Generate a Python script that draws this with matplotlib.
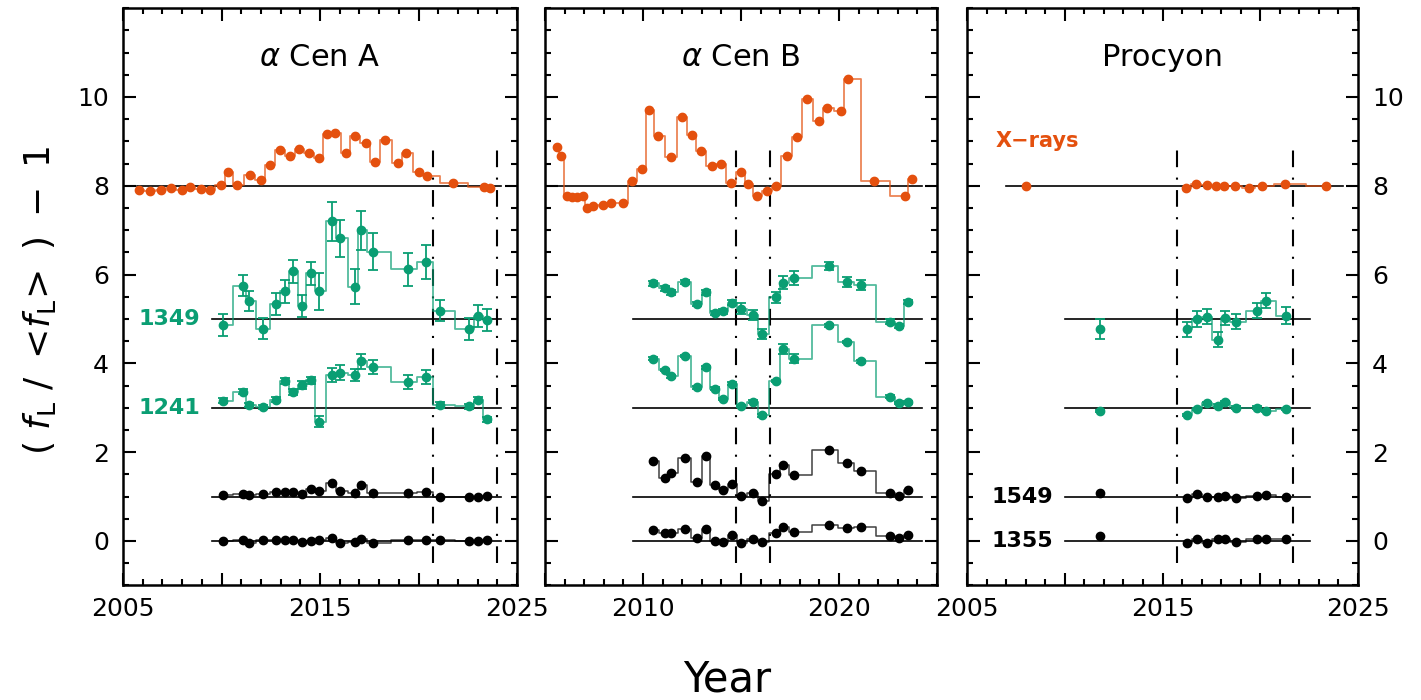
import numpy as np
import matplotlib
matplotlib.use('Agg')
import matplotlib.pyplot as plt
from matplotlib.ticker import MultipleLocator

plt.rcParams['font.family'] = ['DejaVu Sans']
plt.rcParams['mathtext.fontset'] = 'dejavusans'

ORANGE = '#e4500e'
GREEN = '#0a9e73'

# ---- alpha Cen A ----
cenA_xray_t = [2005.81, 2006.36, 2006.95, 2007.46, 2007.97, 2008.39, 2008.95, 2009.41, 2009.97,
               2010.34, 2010.80, 2011.44, 2011.99, 2012.46, 2012.97, 2013.48, 2013.95, 2014.46,
               2014.97, 2015.34, 2015.78, 2016.32, 2016.76, 2017.32, 2017.80, 2018.32, 2018.95,
               2019.36, 2020.05, 2020.42, 2021.73, 2023.30, 2023.64]
cenA_xray = [-0.10, -0.12, -0.10, -0.06, -0.10, -0.03, -0.08, -0.10, 0.01, 0.30, 0.01, 0.24,
             0.13, 0.47, 0.81, 0.66, 0.84, 0.73, 0.63, 1.17, 1.20, 0.75, 1.12, 0.97, 0.54, 1.03,
             0.52, 0.75, 0.30, 0.22, 0.06, -0.02, -0.06]
cenA_uv_t = [2010.07, 2011.11, 2011.41, 2012.12, 2012.76, 2013.22, 2013.65, 2014.07, 2014.53,
             2014.97, 2015.60, 2016.02, 2016.78, 2017.09, 2017.68, 2019.49, 2020.39, 2021.10,
             2022.58, 2023.02, 2023.48]
cenA_1349 = [-0.14, 0.75, 0.41, -0.22, 0.33, 0.62, 1.07, 0.29, 1.03, 0.62, 2.20, 1.82, 0.73,
             2.00, 1.52, 1.12, 1.29, 0.19, -0.23, 0.07, -0.02]
cenA_1349_err = [0.25, 0.23, 0.22, 0.24, 0.25, 0.25, 0.25, 0.24, 0.26, 0.41, 0.44, 0.42, 0.40,
                 0.44, 0.42, 0.37, 0.38, 0.24, 0.25, 0.24, 0.24]
cenA_1241 = [0.16, 0.36, 0.06, 0.02, 0.18, 0.60, 0.36, 0.51, 0.62, -0.31, 0.74, 0.79, 0.74,
             1.05, 0.92, 0.58, 0.70, 0.06, 0.03, 0.18, -0.26]
cenA_1241_err = [0.06, 0.06, 0.05, 0.05, 0.06, 0.07, 0.07, 0.09, 0.08, 0.13, 0.15, 0.17, 0.14,
                 0.17, 0.16, 0.15, 0.16, 0.06, 0.05, 0.06, 0.06]
cenA_1549 = [0.04, 0.05, 0.03, 0.06, 0.10, 0.10, 0.10, 0.05, 0.18, 0.13, 0.31, 0.13, 0.09,
             0.26, 0.07, 0.07, 0.10, -0.02, 0.0, 0.0, 0.02]
cenA_1355 = [0.0, 0.02, -0.04, 0.02, 0.02, 0.03, 0.02, -0.02, 0.0, 0.02, 0.07, -0.05, -0.02,
             0.05, -0.05, 0.02, 0.02, 0.02, -0.01, 0.0, 0.02]

# ---- alpha Cen B ----
cenB_xray_t = [2005.63, 2005.80, 2006.11, 2006.36, 2006.62, 2006.95, 2007.12, 2007.46, 2007.94,
               2008.38, 2009.00, 2009.42, 2009.96, 2010.32, 2010.78, 2011.43, 2012.00, 2012.48,
               2012.94, 2013.50, 2013.98, 2014.49, 2015.00, 2015.37, 2015.83, 2016.34, 2016.79,
               2017.33, 2017.84, 2018.35, 2018.98, 2019.37, 2020.10, 2020.44, 2021.80, 2023.37,
               2023.71]
cenB_xray = [0.88, 0.67, -0.23, -0.25, -0.25, -0.22, -0.49, -0.45, -0.43, -0.38, -0.38, 0.11,
             0.37, 1.71, 1.12, 0.64, 1.54, 1.14, 0.79, 0.45, 0.49, 0.07, 0.30, 0.03, -0.22,
             -0.11, 0.0, 0.68, 1.11, 1.96, 1.47, 1.76, 1.68, 2.41, 0.11, -0.23, 0.15]
cenB_uv_t = [2010.49, 2011.11, 2011.41, 2012.16, 2012.77, 2013.21, 2013.66, 2014.10, 2014.56,
             2015.02, 2015.63, 2016.09, 2016.80, 2017.16, 2017.72, 2019.51, 2020.41, 2021.12,
             2022.62, 2023.08, 2023.52]
cenB_1349 = [0.80, 0.69, 0.60, 0.83, 0.34, 0.60, 0.13, 0.17, 0.37, 0.23, 0.09, -0.34, 0.49,
             0.82, 0.92, 1.19, 0.84, 0.77, -0.06, -0.16, 0.38]
cenB_1349_err = [0.05, 0.05, 0.05, 0.05, 0.05, 0.05, 0.05, 0.05, 0.06, 0.12, 0.11, 0.11, 0.12,
                 0.14, 0.16, 0.09, 0.11, 0.11, 0.05, 0.05, 0.05]
cenB_1241 = [1.11, 0.85, 0.71, 1.17, 0.46, 0.91, 0.43, 0.20, 0.54, 0.04, 0.14, -0.17, 0.60,
             1.32, 1.11, 1.86, 1.48, 1.05, 0.25, 0.11, 0.12]
cenB_1241_err = [0.03, 0.03, 0.03, 0.03, 0.03, 0.03, 0.03, 0.03, 0.03, 0.03, 0.03, 0.03, 0.03,
                 0.11, 0.10, 0.03, 0.03, 0.03, 0.03, 0.03, 0.03]
cenB_1549 = [0.81, 0.43, 0.54, 0.87, 0.33, 0.91, 0.26, 0.15, 0.28, 0.01, 0.09, -0.09, 0.52,
             0.72, 0.48, 1.04, 0.75, 0.58, 0.08, 0.01, 0.15]
cenB_1355 = [0.25, 0.18, 0.18, 0.28, 0.07, 0.28, 0.0, -0.03, 0.13, -0.04, 0.05, -0.03, 0.17,
             0.31, 0.21, 0.37, 0.30, 0.31, 0.11, 0.06, 0.14]

# ---- Procyon ----
proc_xray_t = [2008.01, 2016.20, 2016.70, 2017.26, 2017.73, 2018.14, 2018.70, 2019.42, 2020.07,
               2021.29, 2023.35]
proc_xray = [0.0, -0.04, 0.03, 0.01, -0.01, 0.0, -0.01, -0.04, 0.0, 0.05, 0.0]
proc_uv_t = [2011.82, 2016.25, 2016.78, 2017.26, 2017.82, 2018.19, 2018.75, 2019.81, 2020.27,
             2021.31]
proc_1349 = [-0.23, -0.23, 0.0, 0.05, -0.47, 0.03, -0.06, 0.19, 0.41, 0.07]
proc_1349_err = [0.22, 0.17, 0.17, 0.17, 0.17, 0.16, 0.17, 0.16, 0.17, 0.19]
proc_1241 = [-0.07, -0.16, -0.03, 0.10, 0.05, 0.12, 0.0, 0.0, -0.07, -0.03]
proc_1241_err = [0.03] * 10
proc_1549 = [0.09, -0.04, 0.06, -0.01, -0.01, 0.02, -0.03, 0.01, 0.04, -0.02]
proc_1355 = [0.11, -0.05, 0.05, -0.04, 0.04, 0.04, -0.03, 0.05, 0.04, 0.05]

# offsets of each band and extent of reference lines
offsets = {'xray': 8, '1349': 5, '1241': 3, '1549': 1, '1355': 0}
xray_span = [(2005.7, 2024.2), (2005.0, 2024.25), (2007.0, 2024.25)]
uv_span = [(2009.5, 2024.2), (2009.5, 2024.25), (2010.0, 2022.55)]
vlines = [(2020.76, 2023.98), (2014.74, 2016.48), (2015.72, 2021.68)]
titles = [r'$\alpha$ Cen A', r'$\alpha$ Cen B', 'Procyon']

panels = [
    dict(xt=cenA_xray_t, x=cenA_xray, ut=cenA_uv_t, s1349=cenA_1349, e1349=cenA_1349_err,
         s1241=cenA_1241, e1241=cenA_1241_err, s1549=cenA_1549, s1355=cenA_1355),
    dict(xt=cenB_xray_t, x=cenB_xray, ut=cenB_uv_t, s1349=cenB_1349, e1349=cenB_1349_err,
         s1241=cenB_1241, e1241=cenB_1241_err, s1549=cenB_1549, s1355=cenB_1355),
    dict(xt=proc_xray_t, x=proc_xray, ut=proc_uv_t, s1349=proc_1349, e1349=proc_1349_err,
         s1241=proc_1241, e1241=proc_1241_err, s1549=proc_1549, s1355=proc_1355),
]


def steps(ax, t, y, color, lw=1.3, alpha=0.7):
    # stepped line, broken where there is a big gap in time
    t = np.asarray(t)
    y = np.asarray(y)
    cut = np.where(np.diff(t) > 3)[0] + 1
    for tt, yy in zip(np.split(t, cut), np.split(y, cut)):
        if len(tt) > 1:
            ax.plot(tt, yy, drawstyle='steps-mid', color=color, lw=lw, alpha=alpha, zorder=2)


fig = plt.figure(figsize=(14.21, 7.0), dpi=100)
lefts = [123 / 1421, 545 / 1421, 967 / 1421]
widths = [394 / 1421, 392 / 1421, 391 / 1421]
bottom = (700 - 585.4) / 700
height = (585.4 - 8.2) / 700

for i, p in enumerate(panels):
    ax = fig.add_axes([lefts[i], bottom, widths[i], height])
    ax.set_xlim(2005, 2025)
    ax.set_ylim(-1, 12)

    # reference lines
    ax.plot(xray_span[i], [8, 8], color='k', lw=1.2, zorder=1)
    for off in [5, 3, 1, 0]:
        ax.plot(uv_span[i], [off, off], color='k', lw=1.2, zorder=1)
    for xv in vlines[i]:
        ax.plot([xv, xv], [-0.5, 9], color='k', lw=1.5, zorder=1,
                linestyle=(0, (8, 5, 1, 5)))

    # X-rays
    xr = np.array(p['x']) + offsets['xray']
    steps(ax, p['xt'], xr, ORANGE)
    ax.plot(p['xt'], xr, 'o', color=ORANGE, ms=6, zorder=3)

    # UV lines
    for key, ekey in [('1349', 'e1349'), ('1241', 'e1241')]:
        yv = np.array(p['s' + key]) + offsets[key]
        steps(ax, p['ut'], yv, GREEN)
        ax.errorbar(p['ut'], yv, yerr=p[ekey], fmt='o', color=GREEN, ms=6,
                    capsize=3.5, elinewidth=1.3, capthick=1.3, zorder=3)
    for key in ['1549', '1355']:
        yv = np.array(p['s' + key]) + offsets[key]
        steps(ax, p['ut'], yv, 'k', lw=1.1, alpha=0.75)
        ax.plot(p['ut'], yv, 'o', color='k', ms=6, zorder=3)

    ax.text(0.5, 10.9, titles[i], transform=ax.get_yaxis_transform(), ha='center',
            va='center', fontsize=22)

    # axes styling
    for sp in ax.spines.values():
        sp.set_linewidth(1.8)
    ax.xaxis.set_major_locator(MultipleLocator(5))
    ax.xaxis.set_minor_locator(MultipleLocator(1))
    ax.yaxis.set_major_locator(MultipleLocator(2))
    ax.yaxis.set_minor_locator(MultipleLocator(0.5))
    ax.tick_params(which='both', direction='in', top=True, right=True, width=1.5)
    ax.tick_params(which='major', length=9)
    ax.tick_params(which='minor', length=4.5)
    ax.tick_params(axis='x', labelsize=18, pad=8)
    ax.tick_params(axis='y', labelsize=18, pad=10)

    if i == 1:
        xlabs = ['', '2010', '', '2020', '']
    else:
        xlabs = ['2005', '', '2015', '', '2025']
    ax.set_xticks([2005, 2010, 2015, 2020, 2025])
    ax.set_xticklabels(xlabs)
    ax.set_yticks([0, 2, 4, 6, 8, 10])
    if i == 0:
        ax.set_yticklabels(['0', '2', '4', '6', '8', '10'])
    elif i == 1:
        ax.set_yticklabels([])
    else:
        ax.tick_params(axis='y', labelleft=False, labelright=True)
        ax.set_yticklabels(['0', '2', '4', '6', '8', '10'])

    if i == 0:
        ax.text(2008.9, 5, '1349', color=GREEN, fontsize=16, fontweight='bold',
                ha='right', va='center')
        ax.text(2008.9, 3, '1241', color=GREEN, fontsize=16, fontweight='bold',
                ha='right', va='center')
    if i == 2:
        ax.text(2009.4, 1, '1549', color='k', fontsize=16, fontweight='bold',
                ha='right', va='center')
        ax.text(2009.4, 0, '1355', color='k', fontsize=16, fontweight='bold',
                ha='right', va='center')
        ax.text(2006.45, 9.0, 'X\u2212rays', color=ORANGE, fontsize=15, fontweight='bold',
                ha='left', va='center')

fig.text(40 / 1421, 1 - 300 / 700, r'$(\ f_\mathrm{L}\ /\ <\!f_\mathrm{L}\!>\ )\ -\ 1$',
         rotation=90, ha='center', va='center', fontsize=26)
fig.text(727 / 1421, 1 - 680 / 700, 'Year', ha='center', va='center', fontsize=30)

fig.savefig('out.png', dpi=100)
